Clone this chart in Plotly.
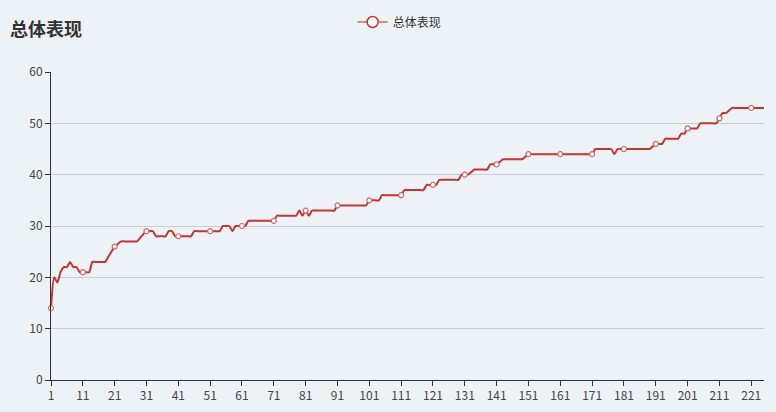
import plotly.graph_objects as go

# ---- data ----
categories = list(range(1, 226))
scores = [
    14, 20, 19, 21, 22, 22, 23, 22, 22, 21,
    21, 21, 21, 23, 23, 23, 23, 23, 24, 25,
    26, 26.5, 27, 27, 27, 27, 27, 27, 27.7, 28.4,
    29, 29, 29, 28, 28, 28, 28, 29, 29, 28,
    28, 28, 28, 28, 28, 29, 29, 29, 29, 29,
    29, 29, 29, 29, 30, 30, 30, 29, 30, 30,
    30, 30, 31, 31, 31, 31, 31, 31, 31, 31,
    31, 32, 32, 32, 32, 32, 32, 32, 33, 32,
    33, 32, 33, 33, 33, 33, 33, 33, 33, 33,
    34, 34, 34, 34, 34, 34, 34, 34, 34, 34,
    35, 35, 35, 35, 36, 36, 36, 36, 36, 36,
    36, 37, 37, 37, 37, 37, 37, 37, 38, 38,
    38, 38, 39, 39, 39, 39, 39, 39, 39, 40,
    40, 40, 40.5, 41, 41, 41, 41, 41, 42, 42,
    42, 42.5, 43, 43, 43, 43, 43, 43, 43, 43.5,
    44, 44, 44, 44, 44, 44, 44, 44, 44, 44,
    44, 44, 44, 44, 44, 44, 44, 44, 44, 44,
    44, 45, 45, 45, 45, 45, 45, 44, 45, 45,
    45, 45, 45, 45, 45, 45, 45, 45, 45, 45.5,
    46, 46, 46, 47, 47, 47, 47, 47, 48, 48,
    49, 49, 49, 49, 50, 50, 50, 50, 50, 50,
    51, 52, 52, 52.5, 53, 53, 53, 53, 53, 53,
    53, 53, 53, 53, 53,
]
assert len(scores) == len(categories)
series_name = "总体表现"
x_ticks = categories[::10]
y_ticks = [0, 10, 20, 30, 40, 50, 60]

RED = "#c23531"
BG = "#edf2f6"
FONT = "Noto Sans CJK SC"

fig = go.Figure()
fig.add_trace(go.Scatter(
    x=categories, y=scores, mode="lines",
    line=dict(color=RED, width=2, shape="spline", smoothing=0.6),
    showlegend=False, hoverinfo="skip",
))
fig.add_trace(go.Scatter(
    x=categories[::10], y=scores[::10], mode="markers", cliponaxis=False,
    marker=dict(size=5, color="white", line=dict(color="#d06a67", width=1.2)),
    showlegend=False,
))
fig.add_trace(go.Scatter(
    x=[None], y=[None], mode="lines+markers", name=series_name,
    line=dict(color="#d06a67", width=1.5),
    marker=dict(size=11, color="white", line=dict(color=RED, width=1.5)),
))

fig.update_layout(
    width=776, height=412,
    paper_bgcolor=BG, plot_bgcolor=BG,
    margin=dict(l=51, r=12, t=72, b=32, autoexpand=False),
    font=dict(family=FONT, size=12, color="#333"),
    legend=dict(
        orientation="h", xref="container", yref="container",
        x=0.515, y=1 - 22 / 412, xanchor="center", yanchor="middle",
        font=dict(size=12, color="#333"), bgcolor="rgba(0,0,0,0)",
        itemwidth=30,
    ),
    annotations=[dict(
        text="<b>总体表现</b>", xref="paper", yref="paper",
        x=-43 / 713, y=1 + 44 / 308, xanchor="left", yanchor="middle",
        showarrow=False, font=dict(size=18, color="#333", family=FONT),
    )],
    xaxis=dict(
        range=[1, 225], tickvals=x_ticks, ticktext=[str(v) for v in x_ticks],
        showgrid=False, zeroline=False, automargin=False,
        showline=True, linecolor="#333", linewidth=1,
        ticks="outside", ticklen=5, tickcolor="#333",
        tickfont=dict(size=12, color="#444"),
    ),
    yaxis=dict(
        range=[0, 60], tickvals=y_ticks, automargin=False,
        showgrid=True, gridcolor="#cccccc", gridwidth=1, zeroline=False,
        showline=True, linecolor="#333", linewidth=1,
        ticks="outside", ticklen=5, tickcolor="#333",
        tickfont=dict(size=12, color="#444"),
    ),
)

fig.write_html(
    "out.html",
    config={"displayModeBar": False},
    post_script="document.body.style.margin='0';document.body.style.background='" + BG + "';",
)
